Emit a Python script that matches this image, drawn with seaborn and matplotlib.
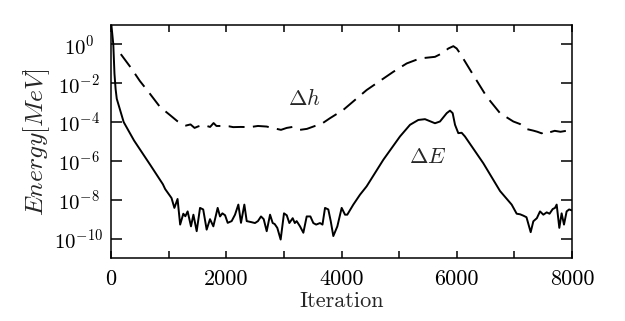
import numpy as np
import pandas as pd
import matplotlib
matplotlib.use("Agg")
import matplotlib.pyplot as plt
from matplotlib.ticker import MultipleLocator, FuncFormatter, NullLocator
import seaborn as sns

# 数据：迭代次数与能量的对数值
iter_dE = [0, 20, 40, 60, 80, 100, 140, 220, 400, 680, 900, 940, 1050, 1100, 1155,
           1200, 1255, 1290, 1330, 1388, 1430, 1487, 1545, 1600, 1660, 1718, 1776,
           1851, 1892, 1933, 1980, 2025, 2094, 2152, 2210, 2256, 2314, 2355, 2430,
           2499, 2550, 2603, 2650, 2702, 2760, 2806, 2840, 2886, 2944, 3002, 3050,
           3095, 3153, 3190, 3222, 3280, 3338, 3396, 3460, 3511, 3560, 3627, 3670,
           3714, 3771, 3813, 3858, 3928, 4003, 4061, 4100, 4205, 4321, 4436, 4726,
           5015, 5189, 5333, 5449, 5622, 5709, 5826, 5883, 5929, 5970, 6027, 6085,
           6142, 6461, 6751, 6953, 7040, 7100, 7156, 7210, 7283, 7329, 7390, 7445,
           7503, 7561, 7610, 7665, 7705, 7734, 7780, 7820, 7861, 7907, 7950, 8000]
log_dE = [1.2, 0.6, 0.0, -1.5, -2.3, -2.8, -3.2, -4.0, -4.95, -6.2, -7.2, -7.45, -7.91,
          -8.42, -7.96, -9.28, -8.72, -8.85, -8.6, -9.37, -8.77, -9.62, -8.42, -8.5,
          -9.54, -9.0, -9.37, -8.42, -8.86, -8.7, -8.8, -9.19, -9.1, -8.77, -8.25,
          -9.19, -8.25, -9.1, -9.15, -9.2, -9.1, -8.86, -9.0, -9.62, -8.77, -9.2,
          -9.25, -9.45, -10.05, -8.7, -8.8, -9.2, -8.95, -9.2, -9.1, -9.37, -9.7,
          -8.86, -8.86, -9.2, -9.28, -9.2, -9.28, -8.42, -8.5, -9.1, -9.87, -9.37,
          -8.42, -8.77, -8.77, -8.25, -7.74, -7.31, -5.94, -4.74, -4.14, -3.89,
          -3.85, -4.06, -3.97, -3.54, -3.41, -3.54, -4.14, -4.57, -4.55, -4.74,
          -6.12, -7.55, -8.25, -8.72, -8.75, -8.82, -8.9, -9.67, -9.11, -8.95, -8.6,
          -8.77, -8.65, -8.72, -8.48, -8.42, -8.25, -9.45, -8.7, -9.28, -8.6, -8.5,
          -8.55]

iter_dh = [170, 350, 500, 670, 850, 1020, 1150, 1250, 1300, 1380, 1450, 1515, 1600,
           1720, 1780, 1830, 1950, 2050, 2120, 2250, 2410, 2550, 2700, 2800, 2950,
           3050, 3150, 3280, 3400, 3540, 3650, 3800, 4032, 4436, 4899, 5131, 5362,
           5622, 5750, 5854, 5941, 5999, 6057, 6287, 6519, 6751, 6982, 7098, 7200,
           7329, 7400, 7473, 7550, 7620, 7700, 7800, 7900, 8000]
log_dh = [-0.5, -1.22, -1.88, -2.52, -3.22, -3.63, -3.95, -4.12, -4.18, -4.12, -4.3,
          -4.22, -4.15, -4.25, -4.05, -4.2, -4.2, -4.22, -4.26, -4.25, -4.26, -4.2,
          -4.23, -4.3, -4.4, -4.3, -4.25, -4.4, -4.35, -4.2, -4.1, -3.8, -3.37,
          -2.35, -1.41, -0.98, -0.72, -0.64, -0.45, -0.21, -0.09, -0.21, -0.46,
          -1.58, -2.69, -3.54, -3.97, -4.1, -4.35, -4.44, -4.5, -4.58, -4.45,
          -4.52, -4.45, -4.5, -4.45, -4.47]

y_ticks = [1e-10, 1e-8, 1e-6, 1e-4, 1e-2, 1e0]

df_E = pd.DataFrame({"Iteration": iter_dE, "Energy": np.power(10.0, log_dE)})
df_h = pd.DataFrame({"Iteration": iter_dh, "Energy": np.power(10.0, log_dh)})

sns.set_style("ticks")
plt.rcParams["font.family"] = "serif"
plt.rcParams["font.serif"] = ["cmr10"]
plt.rcParams["mathtext.fontset"] = "cm"
plt.rcParams["axes.formatter.use_mathtext"] = True
plt.rcParams["lines.scale_dashes"] = False

fig = plt.figure(figsize=(6.25, 3.21), dpi=100)
ax = fig.add_axes([0.1776, 0.1963, 0.7376, 0.7258])

sns.lineplot(data=df_E, x="Iteration", y="Energy", color="black", lw=1.4,
             estimator=None, ax=ax)
sns.lineplot(data=df_h, x="Iteration", y="Energy", color="black", lw=1.4,
             estimator=None, ax=ax)
ax.lines[-1].set_linestyle((0, (11.5, 6.0)))

ax.set_yscale("log")
ax.set_xlim(0, 8000)
ax.set_ylim(1e-11, 1e1)
ax.set_yticks(y_ticks)
ax.yaxis.set_minor_locator(NullLocator())
ax.xaxis.set_major_locator(MultipleLocator(1000))
ax.xaxis.set_major_formatter(FuncFormatter(lambda v, p: f"{int(v)}" if int(v) % 2000 == 0 else ""))

for s in ax.spines.values():
    s.set_linewidth(1.1)
    s.set_color("black")
ax.tick_params(axis="x", which="major", direction="in", top=True, bottom=True,
               length=5, width=1.1, labelsize=16, pad=8, colors="black")
ax.tick_params(axis="y", which="major", direction="in", left=True, right=True,
               length=8, width=1.1, labelsize=15, pad=23, colors="black")
for lab in ax.get_yticklabels():
    lab.set_ha("center")

ax.set_xlabel("Iteration", fontsize=16, labelpad=2)
ax.set_ylabel(r"$Energy[MeV]$", fontsize=18.5, labelpad=2)

ax.text(3349, 10 ** -2.76, r"$\Delta h$", fontsize=16, ha="center", va="center")
ax.text(5493, 10 ** -5.81, r"$\Delta E$", fontsize=16, ha="center", va="center")

fig.savefig("out.png", dpi=100)
